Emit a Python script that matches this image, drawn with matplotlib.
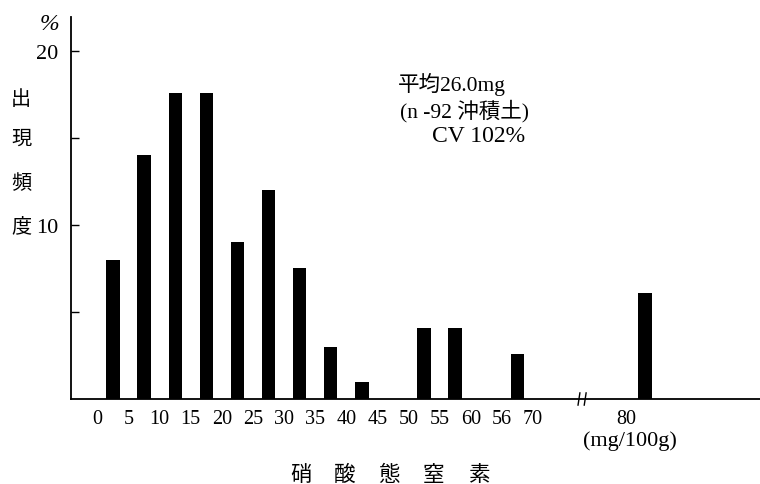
import matplotlib
matplotlib.use("Agg")
import matplotlib.pyplot as plt
import numpy as np

# ---- data ----
edge_labels = ["0", "5", "10", "15", "20", "25", "30", "35", "40", "45",
               "50", "55", "60", "56", "70"]
values = [8.0, 14.0, 17.6, 17.6, 9.0, 12.0, 7.5, 3.0, 1.0, 0.0,
          4.1, 4.1, 0.0, 2.6]
outlier_label = "80"
outlier_value = 6.1
y_ticks_major = [10, 20]
y_ticks_minor = [5, 15]
ylabel_chars = ["出", "現", "頻", "度"]
xlabel_chars = ["硝", "酸", "態", "窒", "素"]
unit_label = "(mg/100g)"
stats_lines = ["平均26.0mg", "(n -92 沖積土)", "CV 102%"]

SERIF = ["Liberation Serif", "Noto Sans CJK JP"]
CJK = ["Noto Sans CJK JP", "DejaVu Sans"]

W, H = 760, 485
fig = plt.figure(figsize=(W / 100, H / 100), dpi=100)
ax = fig.add_axes([71 / W, 85 / H, (W - 71) / W, 382 / H])

n = len(values)
pos = np.arange(n) + 0.5
bar_w = 0.43
ax.bar(pos, values, width=bar_w, color="black", linewidth=0)
out_pos = n + 3.6
ax.bar([out_pos], [outlier_value], width=bar_w, color="black", linewidth=0)

ax.set_xlim(-0.85, 21.3)
ax.set_ylim(0, 21.95)

for s in ("top", "right"):
    ax.spines[s].set_visible(False)
ax.spines["left"].set_linewidth(1.3)
ax.spines["bottom"].set_linewidth(1.3)

# y ticks
ax.set_yticks(y_ticks_major)
ax.set_yticks(y_ticks_minor, minor=True)
ax.tick_params(axis="y", which="both", direction="in", length=6, width=1.0,
               pad=9)
for t in ax.get_yticklabels():
    t.set_fontfamily(SERIF)
    t.set_fontsize(16)

# x tick labels (bin edges)
xt = list(np.arange(len(edge_labels))) + [n + 3]
xl = edge_labels + [outlier_label]
ax.set_xticks(xt)
ax.set_xticklabels(xl, fontsize=14.5, family=SERIF)
ax.tick_params(axis="x", length=0, pad=7)

# axis break mark
bx = n + 1.58
for dx in (-0.1, 0.1):
    ax.plot([bx + dx - 0.03, bx + dx + 0.03], [-0.35, 0.35], color="black",
            lw=1.0, clip_on=False)

def ftxt(x, y, s, **kw):
    fig.text(x / W, 1 - y / H, s, **kw)

ftxt(49, 25, "%", fontsize=17, family=SERIF, ha="center", va="center",
     style="italic")
for ch, yy in zip(ylabel_chars, [100, 139, 184, 227]):
    ftxt(21, yy, ch, fontsize=14.5, family=CJK, ha="center", va="center")

for ch, xx in zip(xlabel_chars, [301, 345, 389, 433, 479]):
    ftxt(xx, 475, ch, fontsize=15.5, family=CJK, ha="center", va="center")

ftxt(630, 441, unit_label, fontsize=16, family=SERIF, ha="center",
     va="center")

ftxt(398, 84, stats_lines[0], fontsize=15.5, family=SERIF, ha="left",
     va="center")
ftxt(400, 111, stats_lines[1], fontsize=15.5, family=SERIF, ha="left",
     va="center")
ftxt(432, 136, stats_lines[2], fontsize=17, family=SERIF, ha="left",
     va="center")

fig.savefig("out.png", dpi=100, facecolor="white")
